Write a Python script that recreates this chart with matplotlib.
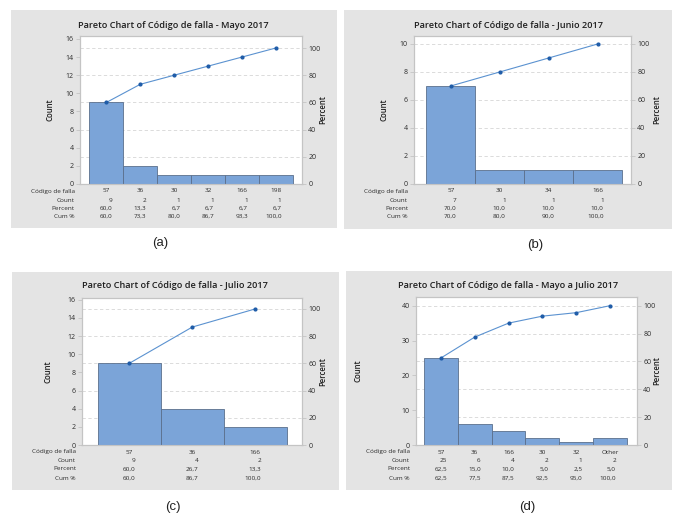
import matplotlib
matplotlib.use("Agg")
import matplotlib.pyplot as plt
import matplotlib.transforms as mtransforms
from matplotlib.patches import Rectangle

# ---------------- data ----------------
titles = ["Pareto Chart of Código de falla - Mayo 2017",
          "Pareto Chart of Código de falla - Junio 2017",
          "Pareto Chart of Código de falla - Julio 2017",
          "Pareto Chart of Código de falla - Mayo a Julio 2017"]
panel_tags = ["(a)", "(b)", "(c)", "(d)"]

codes_a = ["57", "36", "30", "32", "166", "198"]
counts_a = [9, 2, 1, 1, 1, 1]
codes_b = ["57", "30", "34", "166"]
counts_b = [7, 1, 1, 1]
codes_c = ["57", "36", "166"]
counts_c = [9, 4, 2]
codes_d = ["57", "36", "166", "30", "32", "Other"]
counts_d = [25, 6, 4, 2, 1, 2]

count_ticks_a = [0, 2, 4, 6, 8, 10, 12, 14, 16]
count_ticks_b = [0, 2, 4, 6, 8, 10]
count_ticks_c = [0, 2, 4, 6, 8, 10, 12, 14, 16]
count_ticks_d = [0, 10, 20, 30, 40]
count_top = [16.33, 10.57, 16.2, 42.5]
pct_ticks = [0, 20, 40, 60, 80, 100]
row_labels = ["Código de falla", "Count", "Percent", "Cum %"]

# ---------------- layout (pixels) ----------------
W, H = 675, 521
fig = plt.figure(figsize=(W / 100, H / 100), dpi=100)
fig.patch.set_facecolor("white")

def fx(x): return x / W
def fy(y): return 1 - y / H

panels = [
    dict(bg=(11, 10, 337, 228), ax=(80, 36, 302, 184), title=(173, 25), count_x=50, pct_x=323,
         rows=(191, 200, 208, 216), row_x=75, tag=(160, 243), margin=(0.28, 0.28)),
    dict(bg=(344, 10, 672, 229), ax=(414, 36, 631, 184), title=(508, 25), count_x=384, pct_x=657,
         rows=(191, 200, 208, 216), row_x=408, tag=(535, 245), margin=(0.25, 0.18)),
    dict(bg=(12, 272, 339, 490), ax=(82, 298, 302, 445), title=(175, 285), count_x=48, pct_x=323,
         rows=(452, 461, 469, 478), row_x=76, tag=(173, 507), margin=(0.25, 0.24)),
    dict(bg=(346, 271, 672, 490), ax=(416, 297, 637, 445), title=(508, 285), count_x=358, pct_x=657,
         rows=(452, 461, 469, 478), row_x=410, tag=(527, 507), margin=(0.24, 0.3)),
]

datasets = [(codes_a, counts_a, count_ticks_a), (codes_b, counts_b, count_ticks_b),
            (codes_c, counts_c, count_ticks_c), (codes_d, counts_d, count_ticks_d)]

FONT = "Open Sans"
TXT = "#2b2b2b"
BG = "#e4e4e4"
SPINE = "#c4c4c4"
BAR = "#7ba4d8"
BAR_EDGE = "#5b6f8c"
LINE = "#5b92d0"
MARK = "#1f5ca8"

for p, (codes, counts, cticks), title, tag, ctop in zip(panels, datasets, titles, panel_tags, count_top):
    x0, y0, x1, y1 = p["bg"]
    fig.patches.append(Rectangle((fx(x0), fy(y1)), fx(x1) - fx(x0), fy(y0) - fy(y1),
                                 transform=fig.transFigure, facecolor=BG, edgecolor="none", zorder=0))
    ax0, ay0, ax1, ay1 = p["ax"]
    ax = fig.add_axes([fx(ax0), fy(ay1), fx(ax1) - fx(ax0), fy(ay0) - fy(ay1)])
    ax.set_facecolor("white")
    n = len(codes)
    xs = list(range(n))
    total = sum(counts)
    # dashed gridlines at the percent ticks, behind the bars
    for t in pct_ticks[1:]:
        ax.axhline(t / 100 * total, color="#d6d6d6", linewidth=0.6, linestyle=(0, (4, 3)), zorder=1)
    ax.bar(xs, counts, width=1.0, color=BAR, edgecolor=BAR_EDGE, linewidth=0.6, zorder=3)
    ax.set_xlim(-0.5 - p["margin"][0], n - 0.5 + p["margin"][1])
    ax.set_ylim(0, ctop)
    ax.set_yticks(cticks)
    ax.set_xticks([])
    for s in ax.spines.values():
        s.set_color(SPINE)
        s.set_linewidth(0.8)
    ax.tick_params(axis="y", labelsize=5, colors=SPINE, labelcolor=TXT, length=3, width=0.6, pad=1.5)
    for lab in ax.get_yticklabels():
        lab.set_family(FONT)

    ax2 = ax.twinx()
    ax2.set_ylim(0, ctop / total * 100)
    ax2.set_yticks(pct_ticks)
    ax2.tick_params(axis="y", labelsize=5, colors=SPINE, labelcolor=TXT, length=3, width=0.6, pad=1.5)
    for lab in ax2.get_yticklabels():
        lab.set_family(FONT)
    for s in ax2.spines.values():
        s.set_color(SPINE)
        s.set_linewidth(0.8)

    cum = []
    run = 0
    for c in counts:
        run += c
        cum.append(run / total * 100)
    ax2.plot(xs, cum, color=LINE, linewidth=0.8, marker="o", markersize=2,
             markerfacecolor=MARK, markeredgecolor=MARK, zorder=5)
    ax.set_zorder(1)
    ax2.set_zorder(2)
    ax2.patch.set_visible(False)

    # title and axis labels
    fig.text(fx(p["title"][0]), fy(p["title"][1]), title, ha="center", va="center",
             fontsize=6.6, family=FONT, weight="semibold", color="#1e1e1e")
    fig.text(fx(p["count_x"]), fy((ay0 + ay1) / 2), "Count", rotation=90, ha="center", va="center",
             fontsize=5.6, family=FONT, weight="semibold", color="#1e1e1e")
    fig.text(fx(p["pct_x"]), fy((ay0 + ay1) / 2), "Percent", rotation=90, ha="center", va="center",
             fontsize=5.6, family=FONT, weight="semibold", color="#1e1e1e")

    # table below
    tr = mtransforms.blended_transform_factory(ax.transData, fig.transFigure)
    off = mtransforms.ScaledTranslation(6 / 100, 0, fig.dpi_scale_trans)
    ry = p["rows"]
    for lab, yy in zip(row_labels, ry):
        fig.text(fx(p["row_x"]), fy(yy), lab, ha="right", va="center", fontsize=4.6,
                 family=FONT, color=TXT)
    pct = [c / total * 100 for c in counts]
    for i in xs:
        fig.text(i, fy(ry[0]), codes[i], transform=tr, ha="center", va="center",
                 fontsize=4.6, family=FONT, color=TXT)
        fig.text(i, fy(ry[1]), str(counts[i]), transform=tr + off, ha="right", va="center",
                 fontsize=4.6, family=FONT, color=TXT)
        fig.text(i, fy(ry[2]), f"{pct[i]:.1f}".replace(".", ","), transform=tr + off, ha="right",
                 va="center", fontsize=4.6, family=FONT, color=TXT)
        fig.text(i, fy(ry[3]), f"{cum[i]:.1f}".replace(".", ","), transform=tr + off, ha="right",
                 va="center", fontsize=4.6, family=FONT, color=TXT)

    fig.text(fx(p["tag"][0]), fy(p["tag"][1]), tag, ha="center", va="center",
             fontsize=9.5, family="Liberation Sans", color="#222222")

fig.savefig("out.png", dpi=100)
